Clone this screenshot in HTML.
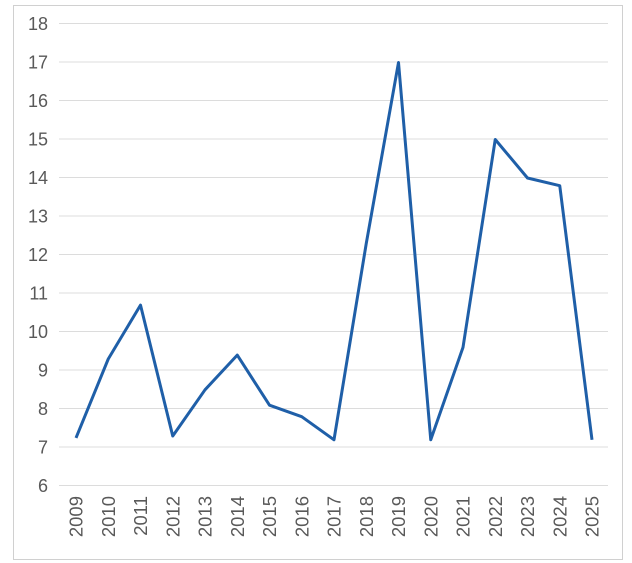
<!DOCTYPE html>
<html><head><meta charset="utf-8"><style>body{margin:0;background:#fff}</style></head><body>
<svg width="632" height="563" xmlns="http://www.w3.org/2000/svg" style="display:block;font-family:'Liberation Sans',sans-serif">
<rect x="13.5" y="5.5" width="609" height="554" fill="#fff" stroke="#d0d0d0"/>
<g stroke="#dcdcdc" stroke-width="1">
<line x1="59" x2="608" y1="23.5" y2="23.5"/><line x1="59" x2="608" y1="62" y2="62"/><line x1="59" x2="608" y1="100.5" y2="100.5"/><line x1="59" x2="608" y1="139" y2="139"/><line x1="59" x2="608" y1="177.5" y2="177.5"/><line x1="59" x2="608" y1="216" y2="216"/><line x1="59" x2="608" y1="254.5" y2="254.5"/><line x1="59" x2="608" y1="293" y2="293"/><line x1="59" x2="608" y1="331.5" y2="331.5"/><line x1="59" x2="608" y1="370" y2="370"/><line x1="59" x2="608" y1="408.5" y2="408.5"/><line x1="59" x2="608" y1="447" y2="447"/><line x1="59" x2="608" y1="485.5" y2="485.5"/>
</g>
<g fill="#595959" font-size="18" text-anchor="end">
<text x="48" y="30">18</text><text x="48" y="68.5">17</text><text x="48" y="107">16</text><text x="48" y="145.5">15</text><text x="48" y="184">14</text><text x="48" y="222.5">13</text><text x="48" y="261">12</text><text x="48" y="299.5">11</text><text x="48" y="338">10</text><text x="48" y="376.5">9</text><text x="48" y="415">8</text><text x="48" y="453.5">7</text><text x="48" y="492">6</text>
</g>
<g fill="#595959" font-size="18.5" text-anchor="end">
<text transform="translate(82.5,496) rotate(-90)">2009</text>
<text transform="translate(114.75,496) rotate(-90)">2010</text>
<text transform="translate(147,496) rotate(-90)">2011</text>
<text transform="translate(179.25,496) rotate(-90)">2012</text>
<text transform="translate(211.5,496) rotate(-90)">2013</text>
<text transform="translate(243.75,496) rotate(-90)">2014</text>
<text transform="translate(276,496) rotate(-90)">2015</text>
<text transform="translate(308.25,496) rotate(-90)">2016</text>
<text transform="translate(340.5,496) rotate(-90)">2017</text>
<text transform="translate(372.75,496) rotate(-90)">2018</text>
<text transform="translate(405,496) rotate(-90)">2019</text>
<text transform="translate(437.25,496) rotate(-90)">2020</text>
<text transform="translate(469.5,496) rotate(-90)">2021</text>
<text transform="translate(501.75,496) rotate(-90)">2022</text>
<text transform="translate(534,496) rotate(-90)">2023</text>
<text transform="translate(566.25,496) rotate(-90)">2024</text>
<text transform="translate(598.5,496) rotate(-90)">2025</text>
</g>
<polyline fill="none" stroke="#1f5fa8" stroke-width="3" stroke-linejoin="round" points="76,437.9 108.25,359 140.5,305.1 172.75,436 205,389.8 237.25,355.1 269.5,405.2 301.75,416.7 334,439.8 366.25,243.5 398.5,62.5 430.75,439.8 463,347.4 495.25,139.5 527.5,178 559.75,185.7 592,439.8"/>
</svg>
</body></html>
